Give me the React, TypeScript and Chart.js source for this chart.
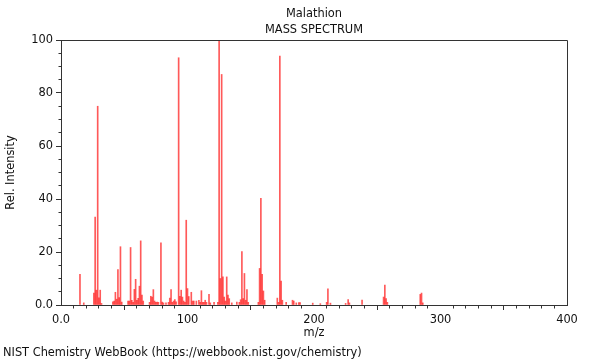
import React, { useEffect, useRef } from "react";
import { Chart, registerables } from "chart.js";

Chart.register(...registerables);

const TITLE = "Malathion";
const SUBTITLE = "MASS SPECTRUM";
const X_TITLE = "m/z";
const Y_TITLE = "Rel. Intensity";
const FOOTER = "NIST Chemistry WebBook (https://webbook.nist.gov/chemistry)";

const MZ = [
  15, 18, 26, 27, 28, 29, 30, 31, 32, 41, 42, 43, 44, 45, 46, 47, 48, 53, 54, 55,
  56, 57, 58, 59, 60, 61, 62, 63, 64, 65, 70, 71, 72, 73, 74, 75, 76, 77, 79, 80,
  81, 83, 85, 86, 87, 88, 89, 90, 91, 93, 94, 95, 96, 97, 98, 99, 100, 101, 103, 104,
  105, 107, 109, 110, 111, 112, 113, 114, 115, 117, 118, 121, 124, 125, 126, 127, 128, 129, 130, 131,
  132, 133, 135, 139, 141, 142, 143, 144, 145, 146, 147, 148, 156, 157, 158, 159, 160, 161, 171, 172,
  173, 174, 175, 178, 183, 184, 186, 188, 189, 199, 205, 210, 211, 213, 225, 227, 228, 238, 255, 256,
  257, 258, 284, 285, 286,
];

const INTENSITY = [
  11.6, 0.8, 4.5, 33.2, 5.6, 75, 2.7, 5.6, 0.6, 1.2, 1.5, 4.8, 2.2, 13.4, 2.8, 22, 1.1, 1.5, 1.5, 21.7,
  1.8, 1.0, 5.9, 9.7, 1.8, 2.5, 7.1, 24.2, 3.7, 1.5, 1.0, 3.3, 3.0, 5.8, 1.5, 1.0, 1.1, 1.0, 23.5, 1.1,
  0.8, 0.8, 1.0, 2.6, 5.8, 1.0, 1.5, 2.0, 1.2, 93.3, 3.3, 5.6, 3.0, 1.5, 1.0, 32, 6.2, 3.2, 4.8, 1.5,
  1.5, 1.5, 1.8, 1.0, 5.4, 1.0, 1.0, 1.8, 1.0, 4.0, 0.8, 1.0, 1.0, 100, 10, 87, 10.6, 3.0, 1.5, 10.6,
  3.7, 2.4, 0.8, 1.1, 1.0, 2.0, 20.2, 2.4, 11.9, 1.8, 5.8, 1.0, 1.0, 13.8, 40.3, 11.6, 5.3, 1.8, 2.6, 1.0,
  93.9, 9.0, 1.8, 1.0, 1.8, 1.5, 0.8, 0.9, 0.9, 0.7, 0.5, 1.0, 6.1, 0.7, 0.6, 2.0, 0.8, 1.9, 3.0, 7.5,
  2.4, 1.0, 4.0, 4.5, 0.8,
];

const X_MIN = 0;
const X_MAX = 400;
const X_MAJOR = 100;
const X_MINOR = 10;
const Y_MIN = 0;
const Y_MAX = 100;
const Y_MAJOR = 20;
const Y_MINOR = 5;

const FONT = "'DejaVu Sans', sans-serif";
const FONT_SIZE = 11.4;
const AXIS_COLOR = "#333";
const TEXT_COLOR = "#111";

const fmt = (v: number) => (v === 0 ? "0.0" : String(v));
const align = (p: number) => Math.round(p - 0.5) + 0.5;

const decorPlugin = {
  id: "decor",
  afterDraw(chart: any) {
    const { ctx, chartArea: a, scales } = chart;
    const x = scales.x;
    const y = scales.y;
    ctx.save();
    ctx.strokeStyle = AXIS_COLOR;
    ctx.lineWidth = 1;
    const top = align(a.top);
    const right = align(a.right);
    const left = align(a.left);
    const bottom = align(a.bottom);
    ctx.beginPath();
    ctx.moveTo(left, top);
    ctx.lineTo(right, top);
    ctx.lineTo(right, bottom);
    ctx.stroke();
    // minor ticks
    ctx.beginPath();
    for (let v = X_MIN; v <= X_MAX; v += X_MINOR) {
      if (v % X_MAJOR === 0) continue;
      const px = align(x.getPixelForValue(v));
      ctx.moveTo(px, bottom);
      ctx.lineTo(px, bottom + 3);
    }
    for (let v = Y_MIN; v <= Y_MAX; v += Y_MINOR) {
      if (v % Y_MAJOR === 0) continue;
      const py = align(y.getPixelForValue(v));
      ctx.moveTo(left, py);
      ctx.lineTo(left - 3, py);
    }
    ctx.stroke();
    // texts
    const cx = (a.left + a.right) / 2;
    ctx.fillStyle = TEXT_COLOR;
    ctx.font = `${FONT_SIZE}px ${FONT}`;
    ctx.textAlign = "center";
    ctx.textBaseline = "middle";
    ctx.fillText(TITLE, cx, 14);
    ctx.fillText(SUBTITLE, cx, 30);
    ctx.fillText(X_TITLE, cx, 333);
    ctx.textAlign = "left";
    ctx.fillText(FOOTER, 3, 353);
    ctx.save();
    ctx.translate(11, (a.top + a.bottom) / 2);
    ctx.rotate(-Math.PI / 2);
    ctx.textAlign = "center";
    ctx.fillText(Y_TITLE, 0, 0);
    ctx.restore();
    ctx.restore();
  },
};

export default function App() {
  const ref = useRef<HTMLCanvasElement | null>(null);
  useEffect(() => {
    if (!ref.current) return;
    const chart = new Chart(ref.current, {
      type: "bar",
      data: {
        datasets: [
          {
            data: MZ.map((m, i) => ({ x: m, y: INTENSITY[i] })),
            backgroundColor: "rgba(255,0,0,0.65)",
            borderWidth: 0,
            barThickness: 1,
          } as any,
        ],
      },
      options: {
        animation: false,
        responsive: false,
        devicePixelRatio: 1,
        layout: { padding: { left: 0, top: 40, right: 33, bottom: 0 } },
        plugins: {
          legend: { display: false },
          tooltip: { enabled: false },
          title: { display: false },
        },
        scales: {
          x: {
            type: "linear",
            min: X_MIN,
            max: X_MAX,
            offset: false,
            afterFit: (s: any) => {
              s.height = 55;
            },
            ticks: {
              stepSize: X_MAJOR,
              callback: (v: any) => fmt(Number(v)),
              font: { family: FONT, size: FONT_SIZE },
              color: TEXT_COLOR,
              padding: 3,
              maxRotation: 0,
              autoSkip: false,
            },
            grid: {
              drawOnChartArea: false,
              drawTicks: true,
              tickLength: 5,
              tickColor: AXIS_COLOR,
              color: AXIS_COLOR,
            },
            border: { color: AXIS_COLOR, width: 1 },
          },
          y: {
            type: "linear",
            min: Y_MIN,
            max: Y_MAX,
            afterFit: (s: any) => {
              s.width = 61;
            },
            ticks: {
              stepSize: Y_MAJOR,
              callback: (v: any) => fmt(Number(v)),
              font: { family: FONT, size: FONT_SIZE },
              color: TEXT_COLOR,
              padding: 3,
            },
            grid: {
              drawOnChartArea: false,
              drawTicks: true,
              tickLength: 5,
              tickColor: AXIS_COLOR,
              color: AXIS_COLOR,
            },
            border: { color: AXIS_COLOR, width: 1 },
          },
        },
      } as any,
      plugins: [decorPlugin],
    });
    return () => chart.destroy();
  }, []);
  return (
    <div style={{ position: "fixed", left: 0, top: 0, width: 600, height: 360, background: "#fff" }}>
      <canvas ref={ref} width={600} height={360} style={{ display: "block" }} />
    </div>
  );
}
